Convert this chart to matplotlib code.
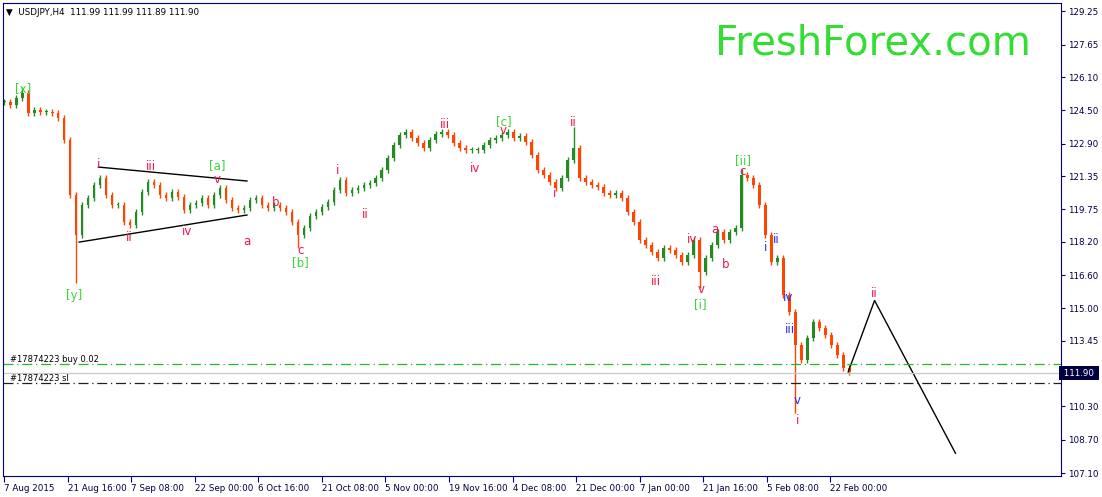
import matplotlib.pyplot as plt
import numpy as np

# closing prices, one every ~6 px of the original chart (H4 bars condensed)
closes = [124.90, 124.76, 125.10, 125.34, 124.38, 124.52, 124.42, 124.42, 124.38, 124.14,
          123.08, 120.44, 118.52, 119.96, 120.30, 120.92, 121.26, 120.44, 119.96, 119.96,
          119.14, 119.00, 119.62, 120.58, 121.06, 120.92, 120.44, 120.30, 120.58, 120.34,
          119.72, 119.96, 120.06, 120.30, 119.96, 120.44, 120.78, 120.20, 119.82, 119.72,
          119.82, 120.20, 120.30, 119.96, 119.82, 119.96, 119.82, 119.62, 119.14, 118.52,
          118.86, 119.42, 119.62, 119.86, 120.10, 120.68, 121.16, 120.54, 120.68, 120.78,
          120.92, 121.02, 121.26, 121.64, 122.22, 122.84, 123.32, 123.46, 123.18, 122.94,
          122.70, 123.08, 123.37, 123.46, 123.32, 122.94, 122.70, 122.60, 122.60, 122.60,
          122.84, 123.08, 123.18, 123.32, 123.46, 123.18, 123.27, 122.98, 122.36, 121.64,
          121.40, 121.06, 120.78, 121.26, 122.12, 122.70, 121.26, 121.06, 120.92, 120.82,
          120.54, 120.44, 120.54, 120.30, 119.62, 119.14, 118.28, 118.04, 117.70, 117.42,
          117.90, 117.80, 117.56, 117.22, 117.56, 118.28, 116.74, 117.42, 118.04, 118.66,
          118.28, 118.66, 118.86, 121.40, 121.26, 120.92, 119.96, 118.52, 117.22, 117.42,
          115.64, 114.82, 113.24, 112.52, 113.58, 114.34, 114.06, 113.72, 113.24, 112.76,
          112.14, 111.95]
# isolated spikes: bar index -> extreme price
spike_lows = {12: 116.2, 49: 117.9, 116: 116.0, 132: 110.0}
spike_highs = {3: 125.6, 95: 123.7, 123: 121.7}

price_ticks = [129.25, 127.65, 126.10, 124.50, 122.90, 121.35, 119.75, 118.20, 116.60,
               115.00, 113.45, 110.30, 108.70, 107.10]
date_labels = ["7 Aug 2015", "21 Aug 16:00", "7 Sep 08:00", "22 Sep 00:00", "6 Oct 16:00",
               "21 Oct 08:00", "5 Nov 00:00", "19 Nov 16:00", "4 Dec 08:00", "21 Dec 00:00",
               "7 Jan 00:00", "21 Jan 16:00", "5 Feb 08:00", "22 Feb 00:00"]
current_price = 111.90
buy_level = 112.33
sl_level = 111.42

# wave labels: (bar index, price, text, colour)
G, R, B = "#3cd23c", "#f0144b", "#2a2aff"
wave_labels = [
    (3.2, 125.55, "[x]", G), (11.7, 115.6, "[y]", G), (15.7, 121.9, "i", R),
    (20.8, 118.4, "ii", R), (24.5, 121.8, "iii", R), (30.5, 118.7, "iv", R),
    (35.6, 121.2, "v", R), (35.6, 121.85, "[a]", G), (40.5, 118.2, "a", R),
    (45.3, 120.1, "b", R), (49.4, 117.8, "c", R), (49.4, 117.2, "[b]", G),
    (55.6, 121.6, "i", R), (60.3, 119.5, "ii", R), (73.5, 123.8, "iii", R),
    (78.5, 121.7, "iv", R), (83.3, 123.55, "v", R), (83.3, 123.95, "[c]", G),
    (91.8, 120.5, "i", R), (95.0, 123.9, "ii", R), (108.7, 116.3, "iii", R),
    (114.8, 118.3, "iv", R), (116.2, 115.9, "v", R), (116.2, 115.2, "[i]", G),
    (118.5, 118.8, "a", R), (120.3, 117.1, "b", R), (123.2, 121.55, "c", R),
    (123.2, 122.1, "[ii]", G), (127.0, 117.9, "i", B), (128.8, 118.3, "ii", B),
    (131.0, 114.0, "iii", B), (130.7, 115.5, "iv", B), (132.3, 110.6, "v", B),
    (132.3, 109.6, "i", R), (145.2, 115.7, "ii", R),
]
projection_x = [140.8, 145.2, 158.7]
projection_p = [111.95, 115.38, 108.05]
triangle_upper = ([15.7, 40.5], [121.78, 121.11])
triangle_lower = ([12.5, 40.5], [118.18, 119.48])

fig = plt.figure(figsize=(11.02, 4.97), dpi=100)
ax = fig.add_axes([3 / 1102, 21 / 497, 1058 / 1102, 473 / 497])

idx = np.arange(len(closes))
opens = [closes[0]] + closes[:-1]
for i, (o, c) in enumerate(zip(opens, closes)):
    col = "#228b22" if c >= o else "#ff4500"
    lo = min(o, c) - 0.15
    hi = max(o, c) + 0.15
    lo = min(lo, spike_lows.get(i, lo))
    hi = max(hi, spike_highs.get(i, hi))
    ax.vlines(i, lo, hi, color=col, lw=1.0)
    ax.bar(i, max(abs(c - o), 0.05), bottom=min(o, c), width=0.45, color=col, lw=0)

ax.plot(*triangle_upper, color="black", lw=1)
ax.plot(*triangle_lower, color="black", lw=1)
ax.plot(projection_x, projection_p, color="black", lw=1)

ax.axhline(buy_level, color="#22bb22", lw=0.9, ls=(0, (8, 3, 1, 3)))
ax.axhline(sl_level, color="#202020", lw=0.9, ls=(0, (8, 3, 1, 3)))
ax.axhline(current_price, color="#c8c8c8", lw=0.9)
ax.text(1, buy_level + 0.1, "#17874223 buy 0.02", fontsize=6, color="black")
ax.text(1, sl_level + 0.1, "#17874223 sl", fontsize=6, color="black")

for x, p, t, c in wave_labels:
    ax.text(x, p, t, color=c, fontsize=8.5, ha="center", va="center")

ax.set_xlim(-0.2, 176.3)
ax.set_ylim(106.96, 129.65)

ax.yaxis.tick_right()
ax.set_yticks(price_ticks)
ax.set_yticklabels([f"{p:.2f}" for p in price_ticks], fontsize=6.3, color="#000040")
ax.tick_params(axis="y", length=3, color="#000080", pad=2)
ax.text(1.0, (current_price - 106.96) / (129.65 - 106.96), f" {current_price:.2f} ",
        transform=ax.transAxes, fontsize=6.3, color="white", va="center", ha="left",
        bbox=dict(boxstyle="square,pad=0.25", fc="#000040", ec="none"))

xt = [k * 10.6 for k in range(len(date_labels))]
ax.set_xticks(xt)
ax.set_xticklabels(date_labels, fontsize=6.3, color="#000040", ha="left")
ax.tick_params(axis="x", length=4, color="#000080", pad=2)

for s in ax.spines.values():
    s.set_color("#000080")

ax.text(0.003, 0.99, "\u25bc  USDJPY,H4  111.99 111.99 111.89 111.90", transform=ax.transAxes,
        fontsize=6.3, va="top", color="black")
ax.text(0.822, 0.915, "FreshForex.com", transform=ax.transAxes, fontsize=29,
        color="#33dd33", ha="center", va="center")

fig.savefig("out.png", dpi=100)
